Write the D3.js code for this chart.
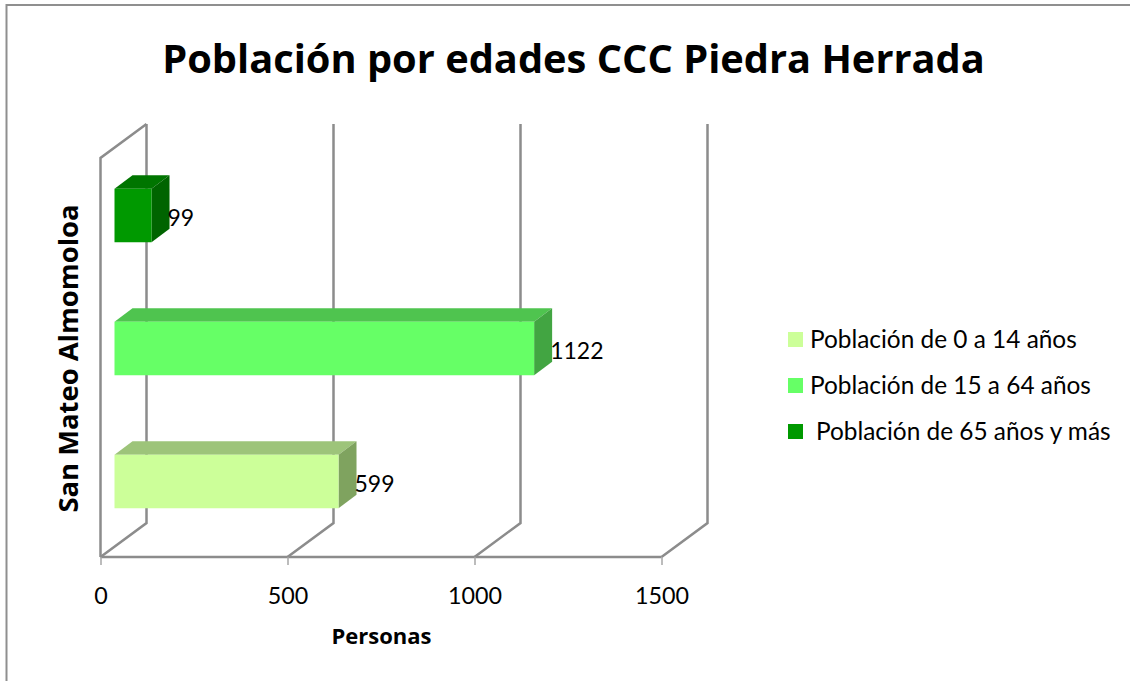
<!DOCTYPE html>
<html><head><meta charset="utf-8">
<script src="https://cdn.jsdelivr.net/npm/d3@7"></script>
<style>html,body{margin:0;padding:0;background:#fff}svg{display:block}</style>
</head><body><div id="c"></div>
<script>
const chartTitle = "Población por edades CCC Piedra Herrada";
const seriesNames = ["Población de 0 a 14 años","Población de 15 a 64 años","Población de 65 años y más"];
const seriesValues = [599,1122,99];
const seriesColors = ["#ccff99","#66ff66","#009900"];
const topColors = ["#9dc47a","#4fc44f","#007500"];
const sideColors = ["#7fa35f","#42a542","#006400"];
const xTicks = [0,500,1000,1500];
const categoryLabel = "San Mateo Almomoloa";
const xLabel = "Personas";

const W=1130,H=681;
const svg=d3.select("#c").append("svg").attr("width",W).attr("height",H);
const grid="#8c8c8c";
svg.append("path").attr("d",`M6.5,${H}V5H${W}`).attr("fill","none").attr("stroke","#8f8f8f").attr("stroke-width",2);
svg.append("text").attr("x",573.5).attr("y",73).attr("text-anchor","middle")
  .attr("font-family","'Open Sans'").attr("font-weight",700).attr("font-size",39.8).attr("fill","#000").text(chartTitle);

const x=d3.scaleLinear().domain([0,1500]).range([100.5,661.5]);
const y=d3.scaleBand().domain(d3.range(seriesNames.length)).range([557,158]);
const depth={x:46,y:-34};
const barH=53.5, barDepth={x:18,y:-13.5}, front={x:14,y:-9};

// walls
const g=svg.append("g").attr("fill","none").attr("stroke",grid).attr("stroke-width",2.5);
xTicks.forEach(t=>{
  const px=x(t);
  g.append("path").attr("d",`M${px},557L${px+depth.x},${557+depth.y}V${158+depth.y}`);
});
g.append("path").attr("d",`M${x(0)},557V158L${x(0)+depth.x},${158+depth.y}`);

// bottom axis
const axis=svg.append("g").attr("transform","translate(0,557)")
  .call(d3.axisBottom(x).tickValues(xTicks).tickSize(8).tickPadding(22).tickFormat(d3.format("d")));
axis.select(".domain").attr("stroke",grid).attr("stroke-width",2.5).attr("d","M100.5,0H661.5");
axis.selectAll(".tick line").attr("stroke","#a6a6a6").attr("stroke-width",1.5);
axis.selectAll(".tick text").attr("font-family","Lato").attr("font-size",23.3).attr("fill","#000");

// bars
const bars=svg.append("g").selectAll("g").data(seriesValues).join("g");
bars.each(function(v,i){
  const s=d3.select(this);
  const x0=x(0)+front.x, x1=x(v)+front.x;
  const yc=y(i)+y.bandwidth()/2+front.y, yt=yc-barH/2, yb=yc+barH/2;
  const dx=barDepth.x,dy=barDepth.y;
  s.append("path").attr("fill",topColors[i]).attr("d",`M${x0},${yt}L${x0+dx},${yt+dy}H${x1+dx}L${x1},${yt}Z`);
  s.append("path").attr("fill",sideColors[i]).attr("d",`M${x1},${yt}L${x1+dx},${yt+dy}V${yb+dy}L${x1},${yb}Z`);
  s.append("rect").attr("fill",seriesColors[i]).attr("x",x0).attr("y",yt).attr("width",x1-x0).attr("height",barH);
  s.append("text").attr("x",x1+dx-2).attr("y",yc+10).attr("font-family","Lato").attr("font-size",23).attr("fill","#000").text(v);
});

// axis titles
svg.append("text").attr("transform","translate(78,358.5) rotate(-90)").attr("text-anchor","middle")
  .attr("font-family","'Open Sans'").attr("font-weight",700).attr("font-size",27.4).attr("fill","#000").text(categoryLabel);
svg.append("text").attr("x",381.5).attr("y",643.5).attr("text-anchor","middle")
  .attr("font-family","'Open Sans'").attr("font-weight",700).attr("font-size",22).attr("fill","#000").text(xLabel);

// legend
const legY=[339,385,431], legOff=[0,0,6];
const leg=svg.append("g").selectAll("g").data(seriesNames).join("g");
leg.append("rect").attr("x",788).attr("y",(d,i)=>legY[i]-7).attr("width",15).attr("height",15).attr("fill",(d,i)=>seriesColors[i]);
leg.append("text").attr("x",(d,i)=>810+legOff[i]).attr("y",(d,i)=>legY[i]+9)
  .attr("font-family","Lato").attr("font-size",24.4).attr("fill","#000").text(d=>d);
</script></body></html>
